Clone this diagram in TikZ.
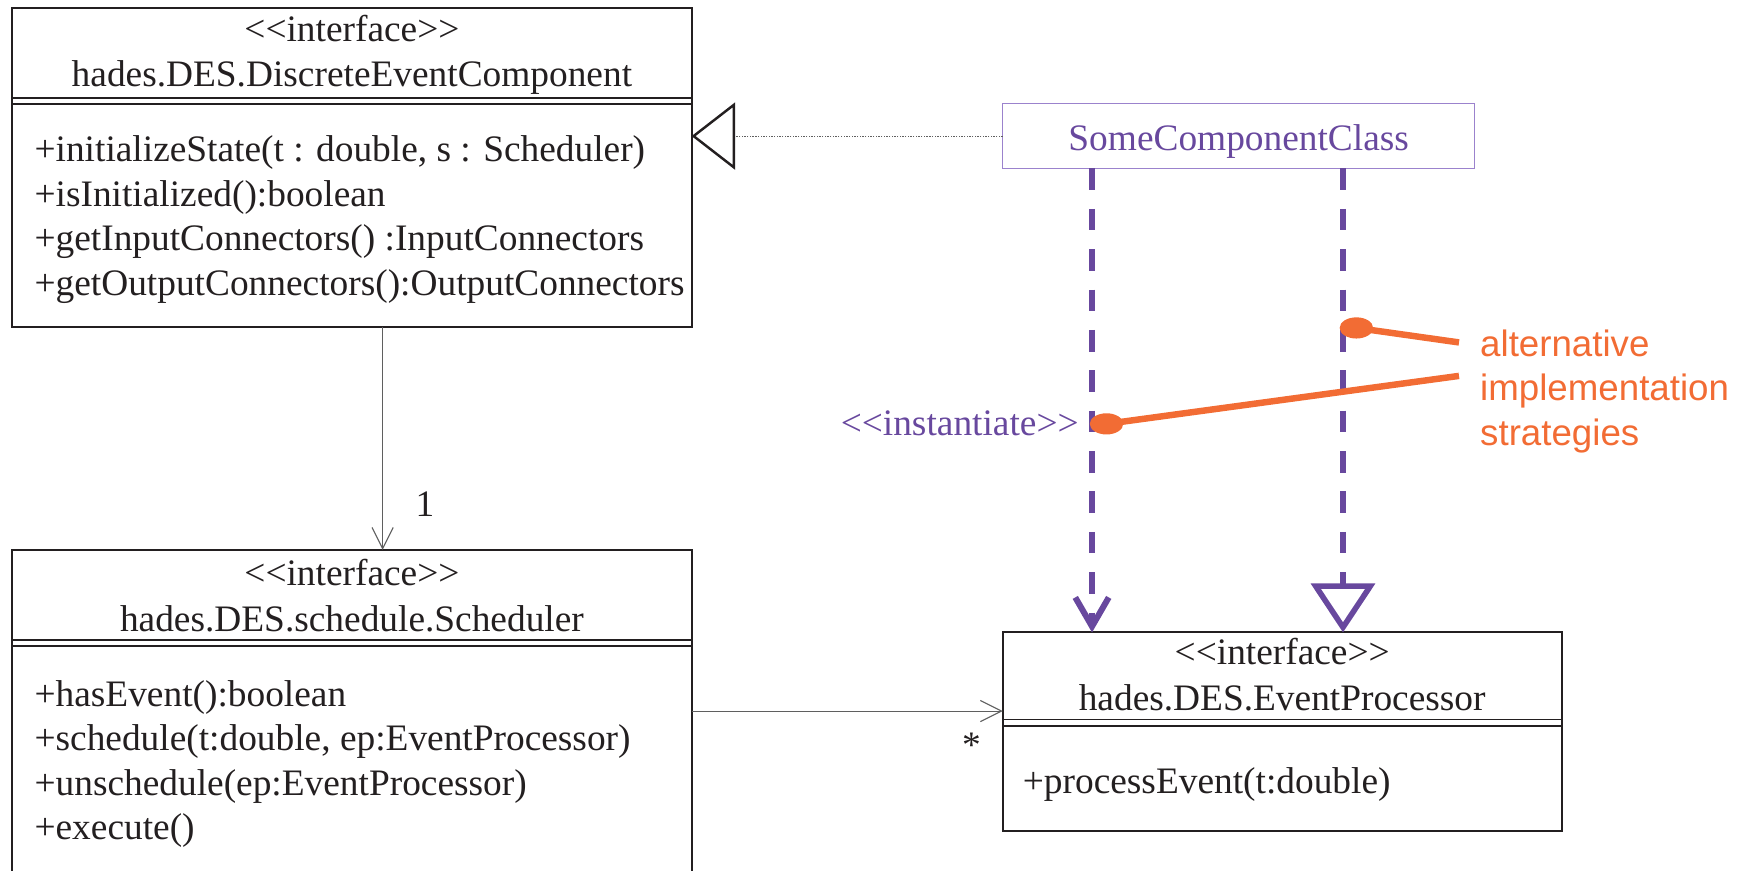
\documentclass[tikz,border=0pt]{standalone}
\usepackage{fontspec}
\setmainfont{Liberation Serif}
\newfontfamily\notefont{Liberation Sans}
\usetikzlibrary{arrows.meta}

\definecolor{umlink}{RGB}{35,31,32}
\definecolor{umlgray}{RGB}{95,95,95}
\definecolor{implpurple}{RGB}{104,72,158}
\definecolor{boxpurple}{RGB}{155,130,205}
\definecolor{noteorange}{RGB}{242,108,52}

% stereotype brackets typed as two separate angle signs
\newcommand{\stereo}[1]{<{}<#1>{}>}

\begin{document}
\begin{tikzpicture}[x=0.5pt,y=-0.5pt,
  every node/.style={inner sep=0pt, outer sep=0pt},
  umltext/.style={font=\fontsize{16.75pt}{20pt}\selectfont, text=umlink},
  classbox/.style={draw=umlink, line width=0.9pt},
  compbox/.style={draw=boxpurple, line width=0.55pt},
  separator/.style={draw=umlink, line width=0.85pt},
  assoc/.style={draw=umlgray, line width=0.5pt,
    -{Straight Barb[length=9.5pt,width=9.5pt,line width=0.5pt]}},
  realize/.style={draw=umlgray, line width=0.5pt, dash pattern=on 0.6pt off 0.6pt,
    -{Triangle[open,length=19.5pt,width=30pt,line width=1.1pt,color=umlink]}},
  instline/.style={draw=implpurple, line width=2.7pt, dash pattern=on 9.7pt off 8.4pt,
    -{Straight Barb[length=13pt,width=15pt,line width=2.7pt]}},
  implline/.style={draw=implpurple, line width=2.7pt, dash pattern=on 9.7pt off 8.4pt,
    -{Triangle[open,length=22pt,width=28.5pt,line width=2.5pt]}},
  purpletext/.style={font=\fontsize{16.75pt}{20pt}\selectfont, text=implpurple},
  notetext/.style={font=\notefont\fontsize{16.45pt}{19.75pt}\selectfont, text=noteorange},
  noteline/.style={draw=noteorange, line width=2.9pt},
]
\useasboundingbox (0,0) rectangle (1568,780);
\clip (0,0) rectangle (1568,780);

% ---- class boxes ----
\node[classbox, minimum width=304.5pt, minimum height=143pt] (dec) at (315.5,150) {};
\node[classbox, minimum width=304.5pt, minimum height=153.5pt] (sched) at (315.5,646.5) {};
\node[classbox, minimum width=250.5pt, minimum height=89pt] (ep) at (1149.5,656) {};
\node[compbox, minimum width=211.5pt, minimum height=29pt] (scc) at (1110.5,122) {};

% ---- compartment separators (double lines) ----
\draw[separator] (dec.west |- 0,88) -- (dec.east |- 0,88);
\draw[separator] (dec.west |- 0,93.5) -- (dec.east |- 0,93.5);
\draw[separator] (sched.west |- 0,574) -- (sched.east |- 0,574);
\draw[separator] (sched.west |- 0,579.5) -- (sched.east |- 0,579.5);
\draw[separator] (ep.west |- 0,645) -- (ep.east |- 0,645);
\draw[separator] (ep.west |- 0,651) -- (ep.east |- 0,651);

% ---- DiscreteEventComponent ----
\node[umltext, anchor=base] (decst) at (315.5,37.5) {\stereo{interface}};
\node[umltext, anchor=base] (decname) at (315.5,78) {hades.DES.DiscreteEventComponent};
\node[umltext, anchor=base west] (decm1) at (31,145) {+initializeState(t : double, s : Scheduler)};
\node[umltext, anchor=base west] (decm2) at (31,185) {+isInitialized():boolean};
\node[umltext, anchor=base west] (decm3) at (31,224.5) {+getInputConnectors() :InputConnectors};
\node[umltext, anchor=base west] (decm4) at (31,264.5) {+getOutputConnectors():OutputConnectors};

% ---- Scheduler ----
\node[umltext, anchor=base] (schst) at (315.5,525) {\stereo{interface}};
\node[umltext, anchor=base] (schname) at (315.5,566.5) {hades.DES.schedule.Scheduler};
\node[umltext, anchor=base west] (schm1) at (31,633) {+hasEvent():boolean};
\node[umltext, anchor=base west] (schm2) at (31,673) {+schedule(t:double, ep:EventProcessor)};
\node[umltext, anchor=base west] (schm3) at (31,713) {+unschedule(ep:EventProcessor)};
\node[umltext, anchor=base west] (schm4) at (31,752.5) {+execute()};

% ---- EventProcessor ----
\node[umltext, anchor=base] (epst) at (1149.5,596) {\stereo{interface}};
\node[umltext, anchor=base] (epname) at (1149.5,637) {hades.DES.EventProcessor};
\node[umltext, anchor=base west] (epm1) at (917,711) {+processEvent(t:double)};

% ---- component class ----
\node[purpletext, anchor=base] (sccname) at (1110.5,135) {SomeComponentClass};

% ---- associations ----
\draw[assoc] (dec.south -| 343,0) -- (sched.north -| 343,0);
\node[umltext, anchor=base] (one) at (381,463) {1};
\draw[assoc] (sched.east |- 0,637.5) -- (ep.west |- 0,637.5);
\node[umltext] (many) at (871,668) {*};

% ---- realization of the interface ----
\draw[realize] (scc.west) -- (dec.east |- scc.west);

% ---- the two implementation strategies ----
\draw[instline] (scc.south -| 979,0) -- (ep.north -| 979,0);
\draw[implline] (scc.south -| 1204,0) -- (ep.north -| 1204,0);
\node[purpletext, anchor=base east] (inst) at (967,390) {\stereo{instantiate}};

% ---- note ----
\node[notetext, anchor=base west] (note1) at (1327,320) {alternative};
\node[notetext, anchor=base west] (note2) at (1327,359.5) {implementation};
\node[notetext, anchor=base west] (note3) at (1327,399) {strategies};
\coordinate (dotA) at (992,380);
\coordinate (dotB) at (1216,294);
\coordinate (endA) at (1308,337);
\coordinate (endB) at (1308,307);
\draw[noteline] (dotA) -- (endA);
\draw[noteline] (dotB) -- (endB);
\fill[noteorange] (dotA) ellipse [x radius=15, y radius=9.5];
\fill[noteorange] (dotB) ellipse [x radius=15, y radius=9.5];
\end{tikzpicture}
\end{document}
